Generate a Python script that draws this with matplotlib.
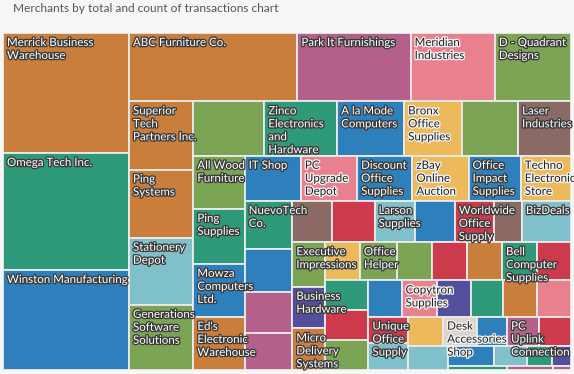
import matplotlib
matplotlib.use("Agg")
import matplotlib.pyplot as plt
import matplotlib.patheffects as pe
from matplotlib.patches import Rectangle

# colour keys -> fills
palette = {
    "O": "#c97f3b",  # orange
    "G": "#2f9a7a",  # teal green
    "B": "#2e80bd",  # blue
    "M": "#b5608b",  # magenta
    "P": "#e9808e",  # light pink
    "L": "#7ba554",  # olive
    "N": "#8b6a66",  # brown
    "Y": "#ecba5a",  # yellow
    "T": "#80c0ca",  # light teal
    "R": "#cc3a4b",  # red
    "U": "#544f9c",  # purple
    "E": "#ddd5cc",  # beige
}
dark_text = {"Y", "P", "E"}

# merchants (display labels as wrapped in the chart), totals, colour keys
merchants = [
    "Merrick Business\nWarehouse", "Omega Tech Inc.", "Winston Manufacturing",
    "ABC Furniture Co.", "Park It Furnishings", "Meridian\nIndustries", "D - Quadrant\nDesigns",
    "Superior\nTech\nPartners Inc.", "Ping\nSystems", "Stationery\nDepot",
    "Generations\nSoftware\nSolutions",
    "", "Zinco\nElectronics\nand\nHardware", "A la Mode\nComputers", "Bronx\nOffice\nSupplies",
    "", "Laser\nIndustries",
    "All Wood\nFurniture", "Ping\nSupplies", "Mowza\nComputers\nLtd.", "Ed's\nElectronic\nWarehouse",
    "IT Shop", "PC\nUpgrade\nDepot", "Discount\nOffice\nSupplies", "zBay\nOnline\nAuction",
    "Office\nImpact\nSupplies", "Techno\nElectronic\nStore",
    "NuevoTech\nCo.", "", "", "",
    "", "", "Larson\nSupplies", "", "Worldwide\nOffice\nSupply", "", "BizDeals",
    "Executive\nImpressions", "Business\nHardware", "Micro\nDelivery\nSystems",
    "", "Office\nHelper", "", "", "", "Bell\nComputer\nSupplies", "",
    "", "", "",
    "", "Copytron\nSupplies", "", "", "", "",
    "Unique\nOffice\nSupply", "",
    "", "Desk\nAccessories\nShop", "", "PC\nUplink\nConnection", "",
    "",
    "", "", "", "",
    "", "", "",
]
totals = [
    15000, 14625, 12500,
    11424, 7684, 5712, 5168,
    4352, 4352, 4288, 4160,
    3834, 3942, 3618, 3132, 3024, 2862,
    2703, 2805, 2703, 2703,
    2520, 2520, 2475, 2520, 2340, 2250,
    2256, 2068, 1927, 1739,
    1640, 1722, 1640, 1640, 1599, 1148, 2009,
    1440, 1344, 1344,
    1330, 1406, 1330, 1330, 1330, 1330, 1292,
    1290, 1290, 1290,
    1188, 1260, 1224, 1152, 1224, 1224,
    1053, 1053,
    1015, 986, 870, 928, 928,
    950,
    920, 660, 500, 380,
    232, 176, 72,
]
colors = [
    "O", "G", "B",
    "O", "M", "P", "L",
    "O", "O", "T", "L",
    "L", "G", "B", "Y", "L", "N",
    "L", "G", "B", "O",
    "B", "P", "B", "Y", "B", "Y",
    "G", "B", "M", "M",
    "N", "R", "T", "B", "R", "N", "T",
    "L", "U", "O",
    "Y", "L", "L", "R", "O", "G", "R",
    "G", "R", "L",
    "B", "P", "U", "G", "O", "P",
    "R", "T",
    "Y", "E", "B", "M", "R",
    "T",
    "B", "T", "G", "U",
    "G", "M", "M",
]

# how many cells go into each strip (strips alternate column / row)
strips = [3, 4, 4, 6, 4, 6, 4, 7, 3, 7, 3, 6, 2, 5, 1, 4, 1, 2]


def strip_layout(values, strips, x0, y0, w, h):
    scale = w * h / sum(values)
    areas = [v * scale for v in values]
    rects = []
    i = 0
    vertical = True
    for n in strips:
        grp = areas[i:i + n]
        s = sum(grp)
        if vertical:
            cw = s / h
            yy = y0
            for a in grp:
                ch = a / cw
                rects.append((x0, yy, cw, ch))
                yy += ch
            x0 += cw
            w -= cw
        else:
            rh = s / w
            xx = x0
            for a in grp:
                rw = a / rh
                rects.append((xx, y0, rw, rh))
                xx += rw
            y0 += rh
            h -= rh
        vertical = not vertical
        i += n
    return rects


W, H = 574, 374
fig = plt.figure(figsize=(W / 100, H / 100), dpi=100, facecolor="#f6f6f6")
px0, py0, pw, ph = 3, 33, 568, 337
ax = fig.add_axes([px0 / W, (H - py0 - ph) / H, pw / W, ph / H])
ax.set_xlim(0, pw)
ax.set_ylim(ph, 0)
ax.axis("off")

fig.text(13 / W, 1 - 9 / H, "Merchants by total and count of transactions chart",
         fontsize=8.6, color="#555555", family=["Lato", "DejaVu Sans"], va="center", ha="left")

rects = strip_layout(totals, strips, 0, 0, pw, ph)
for (x, y, w, h), name, c in zip(rects, merchants, colors):
    ax.add_patch(Rectangle((x, y), w, h, facecolor=palette[c], edgecolor="#ebebeb", linewidth=1.3))
    if name:
        if c in dark_text:
            fc, sc = "#222222", "#f4f4f4"
        else:
            fc, sc = "#ffffff", "#3a3a3a"
        ax.annotate(name, (x, y), xytext=(4, -4), textcoords="offset pixels",
                    ha="left", va="top", fontsize=8.3, color=fc,
                    family=["Lato", "DejaVu Sans"], linespacing=1.22,
                    path_effects=[pe.withStroke(linewidth=1.9, foreground=sc)],
                    annotation_clip=False)

fig.savefig("out.png", dpi=100, facecolor=fig.get_facecolor())
